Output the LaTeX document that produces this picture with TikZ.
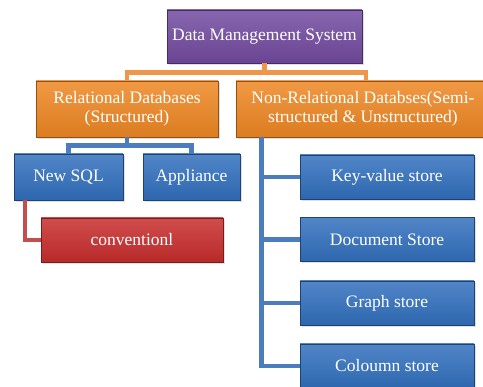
\documentclass[tikz,border=0pt]{standalone}
\usepackage{fontspec}
\setmainfont{Liberation Serif}
\usetikzlibrary{positioning,calc,shadows}

\definecolor{dmspurple}{RGB}{115,75,160}
\definecolor{dmsorange}{RGB}{238,135,35}
\definecolor{dmsblue}{RGB}{50,112,190}
\definecolor{dmsred}{RGB}{200,45,45}
\definecolor{linkorange}{RGB}{240,150,75}
\definecolor{linkblue}{RGB}{75,125,190}
\definecolor{linkred}{RGB}{195,78,78}

\begin{document}
\begin{tikzpicture}[x=1pt,y=-1pt,
    box/.style={draw=#1!60!black, line width=0.7pt, top color=#1!85!white, bottom color=#1!92!black,
      text=white, font=\fontsize{17.5}{19}\selectfont, align=center, inner sep=2pt,
      drop shadow={opacity=0.25, shadow xshift=2pt, shadow yshift=-2pt}},
    link/.style={draw=#1, line width=4.5pt}]
      \clip (0,0) rectangle (483,387);

      % Top level
      \node[box=dmspurple, minimum width=195, minimum height=53] (dms) at (264.5,36.5) {Data Management System};

      % Second level
      \node[box=dmsorange, minimum width=182, minimum height=56] (rel) at (127,109) {Relational Databases\\(Structured)};
      \node[box=dmsorange, minimum width=254, minimum height=56] (nonrel) at (363,109) {Non-Relational Databses(Semi-\\structured \& Unstructured)};

      % Relational children
      \node[box=dmsblue, minimum width=109, minimum height=46] (newsql) at (68.5,177) {New SQL};
      \node[box=dmsblue, minimum width=97, minimum height=46] (appliance) at (191.5,177) {Appliance};
      \node[box=dmsred, minimum width=182, minimum height=44] (conv) at (132,240) {conventionl};

      % Non-relational children
      \foreach \name/\text/\y in {kv/{Key-value store}/177, doc/{Document Store}/239.5, graph/{Graph store}/303, col/{Coloumn store}/366} {
        \node[box=dmsblue, minimum width=174, minimum height=44] (\name) at (387,\y) {\text};
      }

      % Links from top level
      \coordinate (dmsjoin) at ($(dms.south)+(0,9)$);
      \draw[link=linkorange] (dms.south) -- (dmsjoin) -| (rel.north);
      \draw[link=linkorange] (dmsjoin) -| ($(nonrel.north)+(3,0)$);

      % Links below relational
      \coordinate (reljoin) at ($(rel.south)+(0,8)$);
      \draw[link=linkblue] (rel.south) -- (reljoin) -| (newsql.north);
      \draw[link=linkblue] (reljoin) -| (appliance.north);
      \draw[link=linkred, line width=4pt] ($(newsql.south west)+(11,0)$) |- (conv.west);

      % Links below non-relational
      \coordinate (nrtrunk) at ($(nonrel.south west)+(26,0)$);
      \foreach \name in {kv,doc,graph,col} {
        \draw[link=linkblue] (nrtrunk) |- (\name.west);
      }
\end{tikzpicture}
\end{document}
